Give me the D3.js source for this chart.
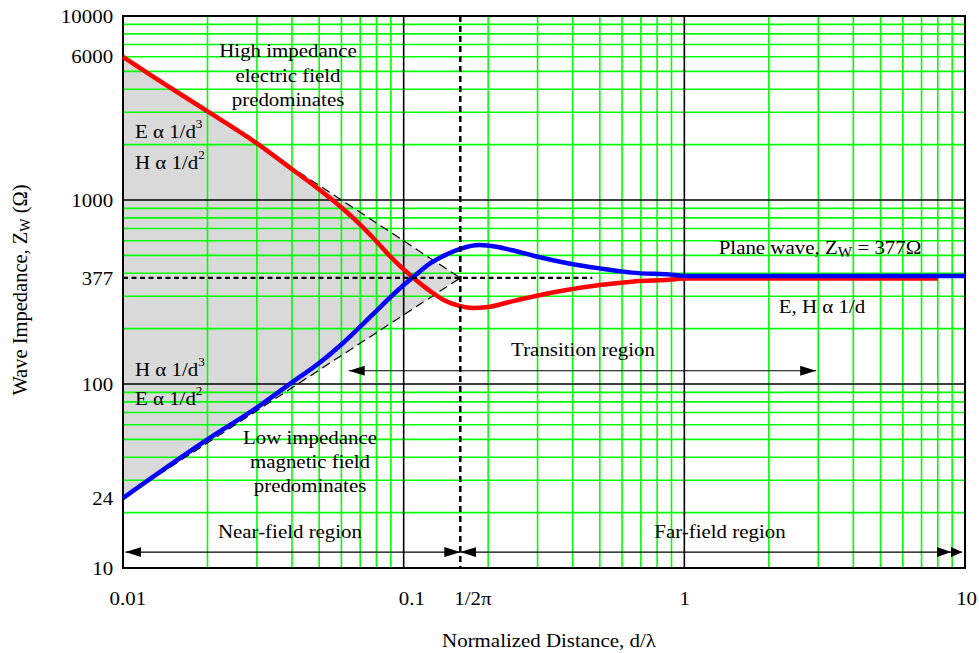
<!DOCTYPE html>
<head>
  <meta charset="utf-8">
  <script src="https://d3js.org/d3.v7.min.js"></script>
  <style>
    body { margin:0; background:#fff; }
    svg { display:block; }
    text { font-family:"Liberation Serif","Times New Roman",serif; fill:#000; }
  </style>
</head>

<body>
  <script>
    // wave impedance curves (d/lambda, ohms)
    var eDist = [0.01, 0.0128, 0.0201, 0.03, 0.04, 0.05, 0.06, 0.07, 0.08, 0.09, 0.1, 0.11, 0.125, 0.14, 0.159, 0.176, 0.2, 0.24, 0.29, 0.38, 0.5, 0.65, 0.93, 1, 2, 5, 8];
    var eZ    = [6000, 4680, 3020, 2030, 1470, 1140, 910, 735, 595, 490, 420, 370, 318, 284, 265, 259, 262, 280, 299, 324, 345, 360, 371, 375, 375, 375, 375];

    var hDist = [0.01, 0.02, 0.03, 0.04, 0.05, 0.06, 0.07, 0.08, 0.09, 0.1, 0.11, 0.125, 0.14, 0.16, 0.186, 0.214, 0.25, 0.29, 0.38, 0.5, 0.65, 0.93, 1, 2, 5, 10];
    var hZ    = [24, 50, 74.5, 102, 130, 164, 205, 250, 298, 345, 390, 455, 500, 544, 569, 557, 528, 498, 455, 425, 403, 391, 386, 386, 386, 386];

    // asymptotes 1/d and d, meeting at 1/2pi
    var asymDist = [0.01, 0.15915];
    var asymHigh = [6000, 377];
    var asymLow  = [24, 377];

    // dotted reference lines
    var planeZ = 377;
    var planeTo = 0.47;
    var kDist = 0.15915;

    // arrows: near-field, far-field, transition
    var arrowFrom = [0.0102, 0.15915, 0.0637];
    var arrowTo   = [0.15915, 9.76, 2.95];
    var arrowZ    = [12.2, 12.2, 118];

    // tick labels
    var xTickVals = [0.01, 0.1, 0.15915, 1, 10];
    var xTickLabels = ["0.01", "0.1", "1/2\u03c0", "1", "10"];
    var yTickVals = [10000, 6000, 1000, 377, 100, 24, 10];

    var width = 979, height = 653;
    var plotL = 123, plotR = 965, plotT = 16, plotB = 568;

    var svg = d3.select("body").append("svg")
      .attr("width", width)
      .attr("height", height);

    var x = d3.scaleLog().domain([0.01, 10]).range([plotL, plotR]);
    var y = d3.scaleLog().domain([10, 10000]).range([plotB, plotT]);

    function isMajor(v) {
      var l = Math.log10(v);
      return Math.abs(l - Math.round(l)) < 1e-9;
    }

    // markers for the arrows
    var defs = svg.append("defs");
    defs.append("marker")
      .attr("id", "head")
      .attr("viewBox", "0 0 16 10")
      .attr("markerWidth", 16).attr("markerHeight", 10)
      .attr("markerUnits", "userSpaceOnUse")
      .attr("refX", 16).attr("refY", 5)
      .attr("orient", "auto-start-reverse")
      .append("path").attr("d", "M0,0L16,5L0,10Z").attr("fill", "#000");
    defs.append("marker")
      .attr("id", "dbl")
      .attr("viewBox", "0 0 25 10")
      .attr("markerWidth", 25).attr("markerHeight", 10)
      .attr("markerUnits", "userSpaceOnUse")
      .attr("refX", 25).attr("refY", 5)
      .attr("orient", "auto")
      .append("path").attr("d", "M0,0L14,5L0,10Z M14,0L25,5L14,10Z").attr("fill", "#000");

    // grey near-field triangle
    var tri = [[asymDist[0], asymHigh[0]], [asymDist[1], asymHigh[1]], [asymDist[0], asymLow[0]]];
    svg.append("path")
      .attr("d", "M" + tri.map(function (p) { return x(p[0]) + "," + y(p[1]); }).join("L") + "Z")
      .attr("fill", "#d9d9d9");

    // grid, green minors first then black decades
    var xt = x.ticks(), yt = y.ticks();
    svg.append("g").selectAll("line")
      .data(xt.filter(function (d) { return !isMajor(d); })).enter()
      .append("line")
      .attr("x1", x).attr("x2", x)
      .attr("y1", plotT).attr("y2", plotB)
      .attr("stroke", "#00ff00").attr("stroke-width", 1.6);
    svg.append("g").selectAll("line")
      .data(yt.filter(function (d) { return !isMajor(d); })).enter()
      .append("line")
      .attr("y1", y).attr("y2", y)
      .attr("x1", plotL).attr("x2", plotR)
      .attr("stroke", "#00ff00").attr("stroke-width", 1.6);
    svg.append("g").selectAll("line")
      .data(xt.filter(isMajor)).enter()
      .append("line")
      .attr("x1", x).attr("x2", x)
      .attr("y1", plotT).attr("y2", plotB)
      .attr("stroke", "#000").attr("stroke-width", 1.6);
    svg.append("g").selectAll("line")
      .data(yt.filter(isMajor)).enter()
      .append("line")
      .attr("y1", y).attr("y2", y)
      .attr("x1", plotL).attr("x2", plotR)
      .attr("stroke", "#000").attr("stroke-width", 1.6);

    svg.append("rect")
      .attr("x", plotL).attr("y", plotT)
      .attr("width", plotR - plotL).attr("height", plotB - plotT)
      .attr("fill", "none").attr("stroke", "#000").attr("stroke-width", 2);

    // dashed asymptotes
    [asymHigh, asymLow].forEach(function (zs) {
      svg.append("line")
        .attr("x1", x(asymDist[0])).attr("y1", y(zs[0]))
        .attr("x2", x(asymDist[1])).attr("y2", y(zs[1]))
        .attr("stroke", "#000").attr("stroke-width", 1.2)
        .attr("stroke-dasharray", "9,5");
    });

    // arrows
    arrowFrom.forEach(function (d0, i) {
      svg.append("line")
        .attr("x1", x(d0)).attr("x2", x(arrowTo[i]))
        .attr("y1", y(arrowZ[i])).attr("y2", y(arrowZ[i]))
        .attr("stroke", "#000").attr("stroke-width", 1.2)
        .attr("marker-start", "url(#head)")
        .attr("marker-end", i == 1 ? "url(#dbl)" : "url(#head)");
    });

    // the two curves
    var line = d3.line()
      .x(function (d) { return x(d[0]); })
      .y(function (d) { return y(d[1]); })
      .curve(d3.curveMonotoneX);

    svg.append("path")
      .datum(eDist.map(function (d, i) { return [d, eZ[i]]; }))
      .attr("d", line)
      .attr("fill", "none").attr("stroke", "#ff0000").attr("stroke-width", 4.5)
      .attr("stroke-linejoin", "round");
    svg.append("path")
      .datum(hDist.map(function (d, i) { return [d, hZ[i]]; }))
      .attr("d", line)
      .attr("fill", "none").attr("stroke", "#0000ff").attr("stroke-width", 4.5)
      .attr("stroke-linejoin", "round");

    // dotted lines at 377 ohm and 1/2pi
    svg.append("line")
      .attr("x1", x(0.01)).attr("x2", x(planeTo))
      .attr("y1", y(planeZ)).attr("y2", y(planeZ))
      .attr("stroke", "#000").attr("stroke-width", 2.2).attr("stroke-dasharray", "5,3.5");
    svg.append("line")
      .attr("x1", x(kDist)).attr("x2", x(kDist))
      .attr("y1", y(10000)).attr("y2", y(10))
      .attr("stroke", "#000").attr("stroke-width", 2.5).attr("stroke-dasharray", "6,4");

    // axes (labels only)
    var serif = "Liberation Serif, Times New Roman, serif";
    var xNudge = [4, 7, 11, 0, 1];
    var gx = svg.append("g")
      .attr("transform", "translate(0," + plotB + ")")
      .call(d3.axisBottom(x).tickValues(xTickVals)
        .tickFormat(function (d, i) { return xTickLabels[i]; })
        .tickSize(0).tickPadding(24));
    gx.select(".domain").remove();
    gx.attr("font-size", 19).attr("font-family", serif);
    gx.selectAll("text")
      .attr("dx", function (d, i) { return xNudge[i]; })
      .attr("transform", "scale(1.1,1)");

    var gy = svg.append("g")
      .attr("transform", "translate(" + plotL + ",0)")
      .call(d3.axisLeft(y).tickValues(yTickVals)
        .tickFormat(function (d) { return String(d); })
        .tickSize(0).tickPadding(9));
    gy.select(".domain").remove();
    gy.attr("font-size", 19).attr("font-family", serif);
    gy.selectAll("text").attr("transform", "scale(1.1,1)");

    // annotation text
    function txt(px, py, anchor) {
      return svg.append("text")
        .attr("transform", "translate(" + px + "," + py + ") scale(1.1,1)")
        .attr("text-anchor", anchor)
        .style("font-size", "19px");
    }
    function supText(px, py, main, sup) {
      var t = txt(px, py, "start");
      t.append("tspan").text(main);
      t.append("tspan").attr("dy", -10).style("font-size", "12px").text(sup);
    }

    txt(288, 57, "middle").text("High impedance");
    txt(288, 82, "middle").text("electric field");
    txt(288, 106, "middle").text("predominates");
    supText(135, 138, "E \u03b1 1/d", "3");
    supText(135, 169, "H \u03b1 1/d", "2");
    supText(135, 376, "H \u03b1 1/d", "3");
    supText(135, 405, "E \u03b1 1/d", "2");
    txt(310, 444, "middle").text("Low impedance");
    txt(310, 468, "middle").text("magnetic field");
    txt(310, 492, "middle").text("predominates");
    txt(290, 538, "middle").text("Near-field region");
    txt(720, 538, "middle").text("Far-field region");
    txt(583, 356, "middle").text("Transition region");
    txt(822, 313, "middle").text("E, H \u03b1 1/d");

    var pw = txt(820, 254, "middle");
    pw.append("tspan").text("Plane wave, Z");
    pw.append("tspan").attr("dy", 3).style("font-size", "14px").text("W");
    pw.append("tspan").attr("dy", -3).text(" = 377\u03a9");

    txt(549, 647, "middle").text("Normalized Distance, d/\u03bb");

    var yt1 = svg.append("text")
      .attr("transform", "translate(27,290) rotate(-90)")
      .attr("text-anchor", "middle")
      .style("font-size", "20.5px");
    yt1.append("tspan").text("Wave Impedance, Z");
    yt1.append("tspan").attr("dy", 3).style("font-size", "14px").text("W");
    yt1.append("tspan").attr("dy", -3).text(" (\u03a9)");
  </script>
</body>
</html>
